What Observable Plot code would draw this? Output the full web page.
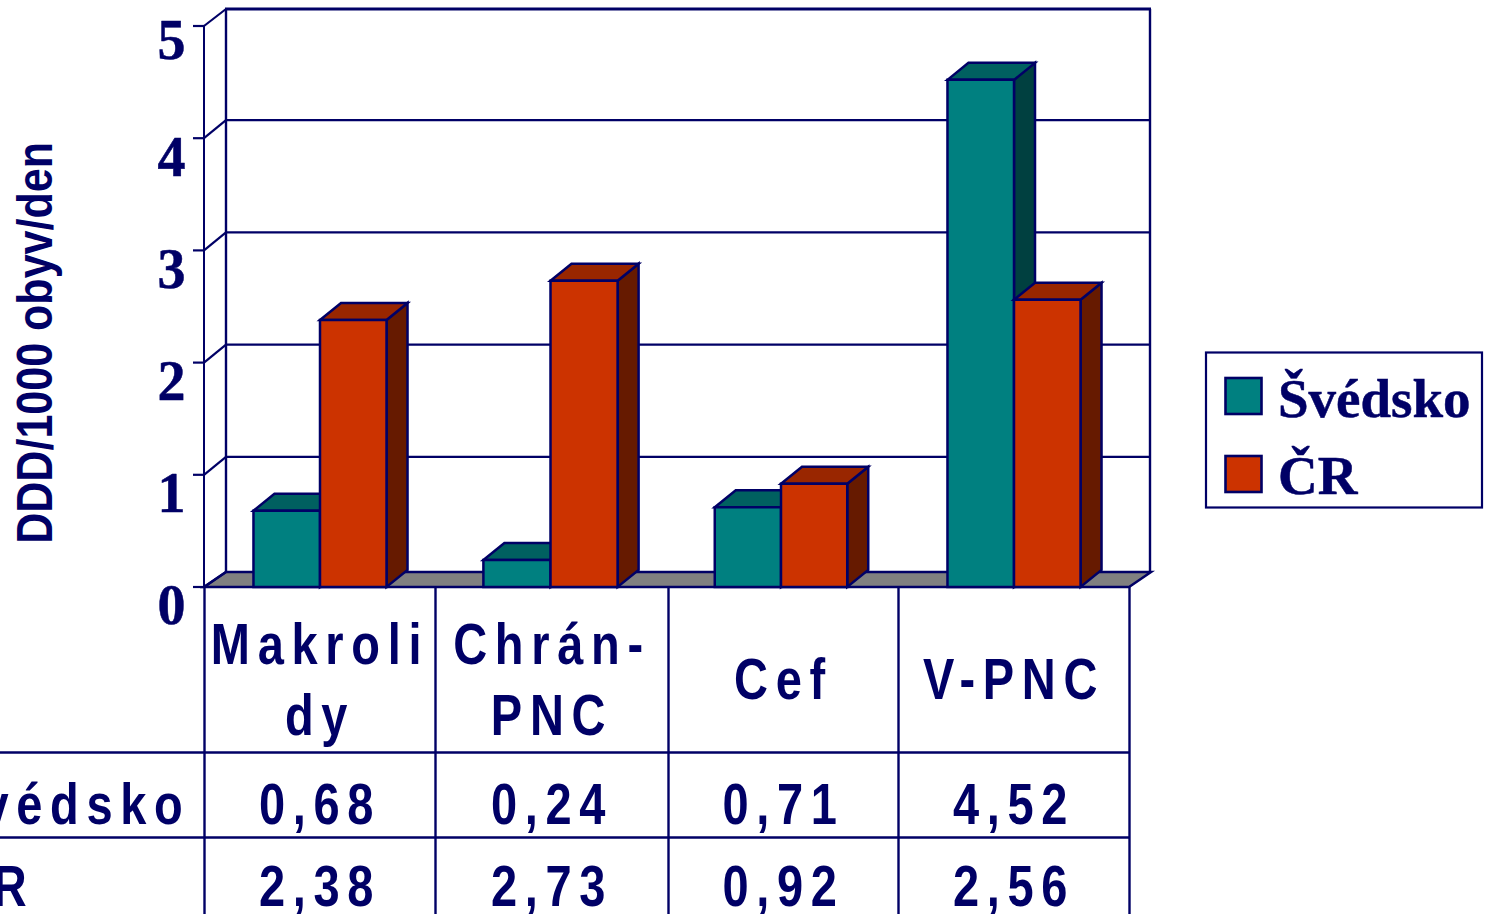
<!DOCTYPE html>
<html><head><meta charset="utf-8">
<script src="https://cdn.jsdelivr.net/npm/d3@7"></script>
<script src="https://cdn.jsdelivr.net/npm/@observablehq/plot@0.6"></script>
<style>
html,body{margin:0;padding:0;background:#fff;overflow:hidden}
svg{display:block}
g[font-size="58"]{letter-spacing:9.5px}
</style></head><body><div id="chart"></div>
<script>
const categories = ["Makrolidy","Chrán-PNC","Cef","V-PNC"];
const categoryLabels = ["Makroli\ndy","Chrán-\nPNC","Cef","V-PNC"];
const svedsko = [0.68,0.24,0.71,4.52];
const cr = [2.38,2.73,0.92,2.56];
const svedskoLabels = ["0,68","0,24","0,71","4,52"];
const crLabels = ["2,38","2,73","0,92","2,56"];
const seriesNames = ["Švédsko","ČR"];
const yTicks = [0,1,2,3,4,5];
const yTitle = "DDD/1000 obyv/den";

const NAVY="#000066", SANS="'Liberation Sans',Arial,sans-serif", SERIF="'Liberation Serif','Times New Roman',serif";
const palette=[{front:"#008080",top:"#006060",side:"#004040"},{front:"#CC3300",top:"#992600",side:"#661A00"}];
const DX=21, DY=17, BARW=0.288;
const nudge=[0.5,-1,-2,0.5];

const bars=categories.flatMap((c,i)=>[svedsko[i],cr[i]].map((v,s)=>({i,s,v,
  x1:i+0.5+(s-1)*BARW, x2:i+0.5+s*BARW, n:nudge[i]})));

function poly(g,pts,fill,w=2.5){g.append("polygon").attr("points",pts.map(p=>p.join(",")).join(" "))
  .attr("fill",fill).attr("stroke",NAVY).attr("stroke-width",w).attr("stroke-linejoin","miter");}
function line(g,x1,y1,x2,y2,w=2){g.append("line").attr("x1",x1).attr("y1",y1).attr("x2",x2).attr("y2",y2)
  .attr("stroke",NAVY).attr("stroke-width",w);}

const backOffset=v=>v===0?15:v===5?17:18;

const walls=(idx,{x,y})=>{
  const g=d3.create("svg:g"), L=x(0), R=x(4), y0=y(0);
  poly(g,[[L,y0],[L+DX+1,y0-15],[R+DX+1,y0-15],[R,y0]],"#808080");
  line(g,L,y(5),L,y0,2);
  line(g,L+DX+1,y(5)-17,L+DX+1,y0-15,2.4);
  line(g,R+DX,y(5)-17,R+DX,y0-15,2.4);
  line(g,L+DX,y(5)-17,R+DX+1,y(5)-17,2.8);
  for(const v of yTicks){
    line(g,L-11,y(v),L,y(v),2.2);
    line(g,L,y(v),L+DX+1,y(v)-backOffset(v),2.2);
    if(v>0&&v<5) line(g,L+DX+1,y(v)-backOffset(v),R+DX,y(v)-backOffset(v),2.2);
  }
  return g.node();
};

const barFaces=b=>(idx,{x,y})=>{
  const g=d3.create("svg:g"), c=palette[b.s];
  const a=x(b.x1)+b.n, e=x(b.x2)+b.n, t=y(b.v), z=y(0);
  poly(g,[[e,t],[e+DX,t-DY],[e+DX,z-DY],[e,z]],c.side);
  poly(g,[[a,t],[a+DX,t-DY],[e+DX,t-DY],[e,t]],c.top);
  poly(g,[[a,t],[e,t],[e,z],[a,z]],c.front);
  return g.node();
};

const legend=()=>{
  const g=d3.create("svg:g");
  g.append("rect").attr("x",1206).attr("y",352.5).attr("width",276).attr("height",155)
    .attr("fill","#fff").attr("stroke",NAVY).attr("stroke-width",2.2);
  seriesNames.forEach((n,i)=>{
    g.append("rect").attr("x",1225.5).attr("y",378+78*i).attr("width",36).attr("height",36)
      .attr("fill",palette[i].front).attr("stroke",NAVY).attr("stroke-width",2.6);
    g.append("text").attr("x",1278).attr("y",417+77*i).text(n).attr("text-anchor","start")
      .attr("fill",NAVY).attr("stroke",NAVY).attr("stroke-width",0.5)
      .attr("font-family",SERIF).attr("font-weight","bold").attr("font-size",55);
  });
  return g.node();
};

const txt={fill:NAVY,fontFamily:SANS,fontWeight:"bold",fontSize:58,stroke:null};
const tickTxt={x:0,y:d=>d,dx:-33,text:d=>String(d),lineAnchor:"bottom",textAnchor:"middle",fill:NAVY,stroke:NAVY,strokeWidth:0.5,fontFamily:SERIF,fontWeight:"bold",fontSize:56};
const rowH=[165,250];
const idx=categories.map((_,i)=>i);

const chart=Plot.plot({
  width:1486,height:914,
  style:{background:"#fff",overflow:"hidden"},
  x:{type:"linear",domain:[-1,0,1,2,3,4],range:[-27,204,435,668,898,1129],axis:null},
  y:{type:"linear",domain:[0,5],range:[587,26],axis:null},
  marks:[
    walls,
    bars.map(barFaces),
    Plot.ruleX([0,1,2,3,4],{y1:0,y2:-3,stroke:NAVY,strokeWidth:2.4}),
    rowH.map(dy=>Plot.ruleY([0],{x1:-1,x2:4,dy,stroke:NAVY,strokeWidth:2.4})),
    Plot.text(idx,{...txt,x:i=>i+0.5,y:0,dy:89,text:i=>categoryLabels[i],lineAnchor:"middle",lineHeight:1.22,textAnchor:"middle"}),
    Plot.text(idx,{...txt,x:i=>i+0.5,y:0,dy:236,text:i=>svedskoLabels[i],lineAnchor:"bottom",textAnchor:"middle"}),
    Plot.text(idx,{...txt,x:i=>i+0.5,y:0,dy:318,text:i=>crLabels[i],lineAnchor:"bottom",textAnchor:"middle"}),
    Plot.text([seriesNames[0]],{...txt,x:0,y:0,dx:-14,dy:236,text:d=>d,lineAnchor:"bottom",textAnchor:"end"}),
    Plot.text([seriesNames[1]],{...txt,x:0,y:0,dx:-170,dy:318,text:d=>d,lineAnchor:"bottom",textAnchor:"end"}),
    Plot.text([1,2,3,4],{...tickTxt,dy:37}),
    Plot.text([0],{...tickTxt,dy:36}),
    Plot.text([5],{...tickTxt,dy:32}),
    Plot.text([yTitle],{x:-1,y:2.18,dx:62,text:d=>d,rotate:-90,lineAnchor:"middle",textAnchor:"middle",fill:NAVY,fontFamily:SANS,fontWeight:"bold",fontSize:50}),
    legend
  ]
});
// horizontally condense the sans labels, as in the reference
chart.querySelectorAll('g[font-size="58"] text').forEach(t=>t.setAttribute("transform",(t.getAttribute("transform")||"")+" scale(0.81,1)"));
chart.querySelectorAll('g[font-size="50"] text').forEach(t=>t.setAttribute("transform",(t.getAttribute("transform")||"")+" scale(0.861,1)"));
document.getElementById("chart").append(chart);
</script></body></html>
